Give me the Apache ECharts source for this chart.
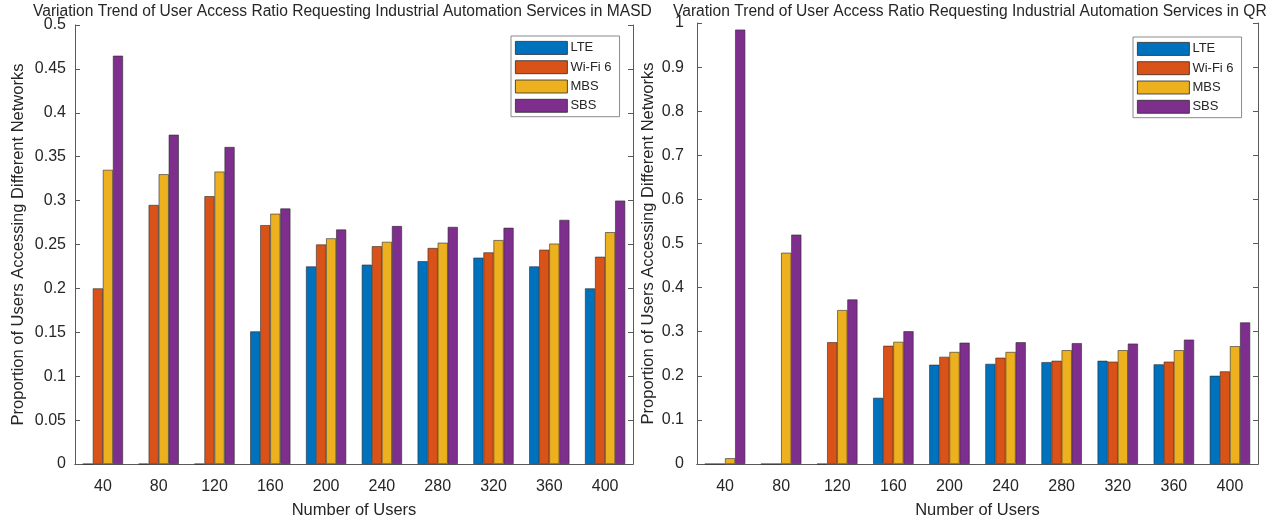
<!DOCTYPE html>
<html>
<head>
<meta charset="utf-8">
<script src="https://cdn.jsdelivr.net/npm/echarts@6/dist/echarts.min.js"></script>
<style>
html,body{margin:0;padding:0;background:#fff;}
#chart{width:1281px;height:524px;}
</style>
</head>
<body>
<div id="chart"></div>
<script>
const categories = ['40','80','120','160','200','240','280','320','360','400'];
const seriesNames = ['LTE','Wi-Fi 6','MBS','SBS'];
const colors = ['#0072BD','#D95319','#EDB120','#7E2F8E'];

const masdLTE  = [0, 0, 0, 0.151, 0.225, 0.227, 0.231, 0.235, 0.225, 0.200];
const masdWiFi = [0.200, 0.295, 0.305, 0.272, 0.250, 0.248, 0.246, 0.241, 0.244, 0.236];
const masdMBS  = [0.335, 0.330, 0.333, 0.285, 0.257, 0.253, 0.252, 0.255, 0.251, 0.264];
const masdSBS  = [0.465, 0.375, 0.361, 0.291, 0.267, 0.271, 0.270, 0.269, 0.278, 0.300];

const qrLTE  = [0, 0, 0, 0.150, 0.225, 0.227, 0.231, 0.234, 0.226, 0.200];
const qrWiFi = [0, 0, 0.276, 0.268, 0.243, 0.241, 0.234, 0.232, 0.232, 0.210];
const qrMBS  = [0.013, 0.479, 0.349, 0.277, 0.254, 0.254, 0.258, 0.258, 0.258, 0.267];
const qrSBS  = [0.985, 0.520, 0.373, 0.301, 0.275, 0.276, 0.274, 0.273, 0.282, 0.321];

const titleLeft = 'Variation Trend of User Access Ratio Requesting Industrial Automation Services in MASD';
const titleRight = 'Varation Trend of User Access Ratio Requesting Industrial Automation Services in QR';
const xName = 'Number of Users';
const yName = 'Proportion of Users Accessing Different Networks';

const FONT = 'Liberation Sans, Arial, sans-serif';
const TXT = '#262626';
const AX = '#5a5a5a';

function mainX(gi){
  return {
    type:'category', gridIndex:gi, data:categories,
    name:xName, nameLocation:'middle', nameGap:38,
    nameTextStyle:{fontFamily:FONT,fontSize:16.5,color:TXT},
    axisLine:{lineStyle:{color:AX,width:1}},
    axisTick:{inside:true,alignWithLabel:true,length:5,lineStyle:{color:AX}},
    axisLabel:{fontFamily:FONT,fontSize:16,color:TXT,margin:15},
    splitLine:{show:false}
  };
}
function topX(gi){
  return {
    type:'category', gridIndex:gi, data:categories, position:'top',
    axisLine:{lineStyle:{color:AX,width:1}},
    axisTick:{inside:true,alignWithLabel:true,length:5,lineStyle:{color:AX}},
    axisLabel:{show:false}, splitLine:{show:false}
  };
}
function mainY(gi,max,interval,gap,margin){
  return {
    type:'value', gridIndex:gi, min:0, max:max, interval:interval,
    name:yName, nameLocation:'middle', nameGap:gap,
    nameTextStyle:{fontFamily:FONT,fontSize:16.5,color:TXT},
    axisLine:{show:true,lineStyle:{color:AX,width:1}},
    axisTick:{show:true,inside:true,length:5,lineStyle:{color:AX}},
    axisLabel:{fontFamily:FONT,fontSize:16,color:TXT,margin:margin},
    splitLine:{show:false}
  };
}
function rightY(gi,max,interval){
  return {
    type:'value', gridIndex:gi, min:0, max:max, interval:interval, position:'right',
    axisLine:{show:true,lineStyle:{color:AX,width:1}},
    axisTick:{show:true,inside:true,length:5,lineStyle:{color:AX}},
    axisLabel:{show:false}, splitLine:{show:false}
  };
}
function bar(name,data,xi,yi,ci){
  return {
    type:'bar', name:name, data:data, xAxisIndex:xi, yAxisIndex:yi,
    barGap:'0%', barCategoryGap:'28%',
    itemStyle:{color:colors[ci],borderColor:'#2a2a2a',borderWidth:0.6},
    emphasis:{disabled:true}
  };
}
function legend(left,top){
  return {
    orient:'vertical', left:left, top:top, data:seriesNames,
    icon:'rect',
    itemWidth:52, itemHeight:13, itemGap:5.5,
    itemStyle:{borderColor:'#2a2a2a',borderWidth:0.8},
    backgroundColor:'#fff', borderColor:'#8a8a8a', borderWidth:1,
    padding:[5,8,4,4],
    textStyle:{fontFamily:FONT,fontSize:13,color:TXT,padding:[0,0,0,-2]},
    selectedMode:false
  };
}

const chart = echarts.init(document.getElementById('chart'),null,{renderer:'canvas'});
chart.setOption({
  animation:false,
  backgroundColor:'#fff',
  title:[
    {text:titleLeft,left:33,top:4,padding:0,textStyle:{fontFamily:FONT,fontSize:15.6,fontWeight:'normal',color:TXT}},
    {text:titleRight,left:673,top:4,padding:0,textStyle:{fontFamily:FONT,fontSize:15.6,fontWeight:'normal',color:TXT}}
  ],
  legend:[legend(511,36),legend(1133,37)],
  grid:[
    {left:75,top:25,width:558,height:441,containLabel:false},
    {left:697,top:23,width:561,height:445,containLabel:false}
  ],
  xAxis:[mainX(0),topX(0),mainX(1),topX(1)],
  yAxis:[mainY(0,0.5,0.05,48,9),rightY(0,0.5,0.05),mainY(1,1,0.1,40,13),rightY(1,1,0.1)],
  series:[
    bar('LTE',masdLTE,0,0,0),
    bar('Wi-Fi 6',masdWiFi,0,0,1),
    bar('MBS',masdMBS,0,0,2),
    bar('SBS',masdSBS,0,0,3),
    bar('LTE',qrLTE,2,2,0),
    bar('Wi-Fi 6',qrWiFi,2,2,1),
    bar('MBS',qrMBS,2,2,2),
    bar('SBS',qrSBS,2,2,3)
  ]
});
</script>
</body>
</html>
